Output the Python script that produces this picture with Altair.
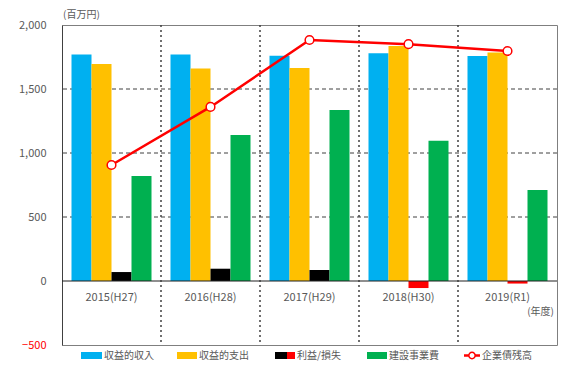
import altair as alt
import pandas as pd

years = ["2015(H27)", "2016(H28)", "2017(H29)", "2018(H30)", "2019(R1)"]
revenue_income = [1770, 1770, 1760, 1780, 1758]
revenue_expense = [1695, 1660, 1665, 1835, 1785]
profit_loss = [70, 96, 86, -55, -20]
construction = [820, 1140, 1335, 1095, 710]
bond_balance = [906, 1360, 1883, 1850, 1797]

series_names = ["収益的収入", "収益的支出", "利益/損失", "建設事業費"]
line_name = "企業債残高"

FONT = "Noto Sans CJK JP"
GRAY = "#595959"

rows = []
for i, y in enumerate(years):
    for name, vals in zip(series_names, [revenue_income, revenue_expense, profit_loss, construction]):
        v = vals[i]
        key = name if not (name == "利益/損失" and v < 0) else "損失"
        rows.append({"year": y, "series": name, "value": v, "key": key})
bars_df = pd.DataFrame(rows)
line_df = pd.DataFrame({"year": years, "value": bond_balance})
year_df = pd.DataFrame({"year": years})
grid_df = pd.DataFrame({"v": [500, 1000, 1500]})
one = pd.DataFrame({"a": [0]})

xscale = alt.Scale(domain=years, paddingInner=0, paddingOuter=0)
yscale = alt.Scale(domain=[-500, 2000], nice=False)

color_scale = alt.Scale(
    domain=["収益的収入", "収益的支出", "利益/損失", "損失", "建設事業費"],
    range=["#00B0F0", "#FFC000", "#000000", "#FF0000", "#00B050"],
)

hgrid = alt.Chart(grid_df).mark_rule(color="#404040", strokeDash=[4, 3], strokeWidth=1).encode(
    y=alt.Y("v:Q", scale=yscale)
)

bars = alt.Chart(bars_df).mark_bar().encode(
    x=alt.X("year:N", scale=xscale, sort=years,
            axis=None),
    xOffset=alt.XOffset("series:N", sort=series_names,
                        scale=alt.Scale(domain=series_names, paddingOuter=0.475, paddingInner=0)),
    y=alt.Y("value:Q", scale=yscale,
            axis=alt.Axis(values=[-500, 0, 500, 1000, 1500, 2000], format=",.0f", title=None,
                          grid=False, ticks=False, domain=True, domainColor="#404040",
                          labelPadding=16, labelFontSize=11, labelFont=FONT,
                          labelColor=alt.condition("datum.value < 0", alt.value("#FF0000"), alt.value(GRAY)))),
    color=alt.Color("key:N", scale=color_scale, legend=None),
)

zero = alt.Chart(one).mark_rule(color="#202020", strokeWidth=1.2).encode(y=alt.datum(0, scale=yscale))

vgrid = alt.Chart(pd.DataFrame({"year": years[1:]})).mark_rule(
    color="#404040", strokeDash=[2, 3], strokeWidth=1.5
).encode(x=alt.X("year:N", scale=xscale, sort=years, bandPosition=0))

xlabels = alt.Chart(year_df).mark_text(fontSize=11, font=FONT, color=GRAY, dy=17).encode(
    x=alt.X("year:N", scale=xscale, sort=years),
    y=alt.datum(0, scale=yscale),
    text="year:N",
)

line = alt.Chart(line_df).mark_line(color="#FF0000", strokeWidth=2.5).encode(
    x=alt.X("year:N", scale=xscale, sort=years),
    y=alt.Y("value:Q", scale=yscale),
)
pts = alt.Chart(line_df).mark_point(filled=True, fill="white", stroke="#FF0000", strokeWidth=1.5,
                                    size=75, opacity=1).encode(
    x=alt.X("year:N", scale=xscale, sort=years),
    y=alt.Y("value:Q", scale=yscale),
)

def txt(s, x, y, align="left", size=10, color=GRAY):
    return alt.Chart(one).mark_text(text=s, align=align, baseline="middle", fontSize=size,
                                    font=FONT, color=color).encode(x=alt.value(x), y=alt.value(y))

def rect(x1, x2, y1, y2, color):
    return alt.Chart(one).mark_rect(color=color).encode(
        x=alt.value(x1), x2=alt.value(x2), y=alt.value(y1), y2=alt.value(y2))

ly = 330.5
legend_layers = [
    rect(19, 40, 327, 334, "#00B0F0"), txt(series_names[0], 42, ly),
    rect(115, 135, 327, 334, "#FFC000"), txt(series_names[1], 137, ly),
    rect(213, 225, 327, 334, "#000000"), rect(225, 233, 327, 334, "#FF0000"), txt(series_names[2], 235, ly),
    rect(305, 325, 327, 334, "#00B050"), txt(series_names[3], 327, ly),
    alt.Chart(one).mark_rule(color="#FF0000", strokeWidth=2.5).encode(
        x=alt.value(402), x2=alt.value(418), y=alt.value(ly)),
    alt.Chart(one).mark_point(filled=True, fill="white", stroke="#FF0000", strokeWidth=1.5, size=40,
                              opacity=1).encode(x=alt.value(410), y=alt.value(ly)),
    txt(line_name, 420, ly),
]

annots = [
    txt("(百万円)", 1, -10, size=10),
    txt("(年度)", 492, 287, align="right", size=10),
]

chart = alt.layer(hgrid, bars, zero, vgrid, xlabels, line, pts, *legend_layers, *annots).properties(
    width=495, height=320,
    autosize=alt.AutoSizeParams(type="none"),
    padding={"left": 62, "top": 25, "right": 4, "bottom": 21},
    background="white",
).configure_view(stroke="#7f7f7f", strokeWidth=1)

chart.save("out.html", embed_options={"renderer": "svg", "actions": False})
